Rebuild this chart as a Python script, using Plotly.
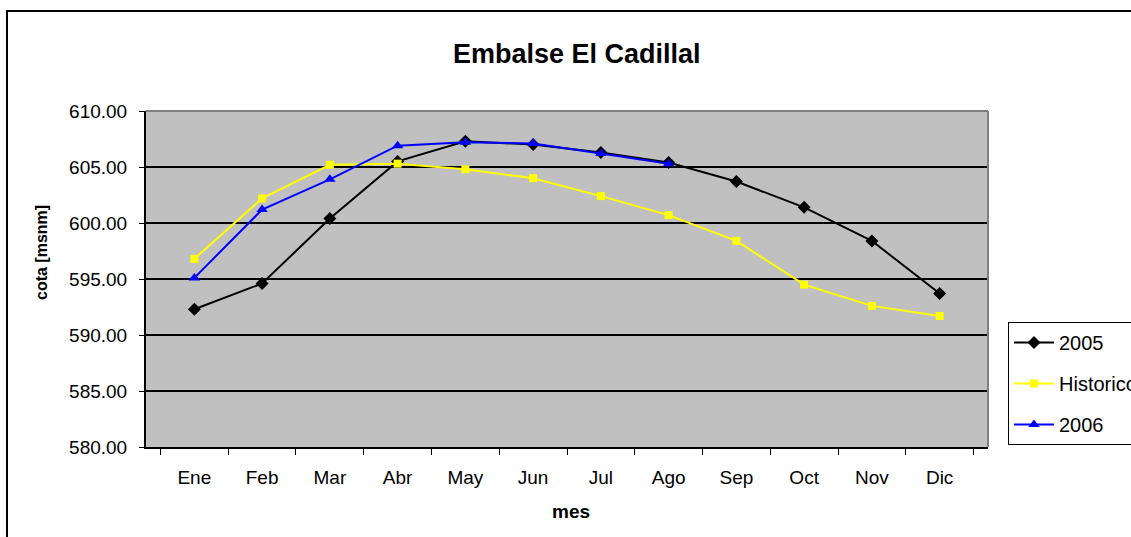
import plotly.graph_objects as go

meses = ["Ene", "Feb", "Mar", "Abr", "May", "Jun", "Jul", "Ago", "Sep", "Oct", "Nov", "Dic"]
cota_2005 = [592.3, 594.6, 600.4, 605.5, 607.3, 607.0, 606.3, 605.4, 603.7, 601.4, 598.4, 593.7]
cota_historico = [596.8, 602.2, 605.2, 605.3, 604.8, 604.0, 602.4, 600.7, 598.4, 594.5, 592.6, 591.7]
cota_2006 = [595.1, 601.2, 603.9, 606.9, 607.2, 607.1, 606.2, 605.3]

FONT = "Liberation Sans, Arial, sans-serif"

fig = go.Figure()

fig.add_trace(
    go.Scatter(
        x=meses,
        y=cota_2005,
        name="2005",
        mode="lines+markers",
        line=dict(color="black", width=2),
        marker=dict(symbol="diamond", size=10, color="black"),
        legendgroup="a",
    )
)
fig.add_trace(
    go.Scatter(
        x=meses,
        y=cota_historico,
        name="Historico",
        mode="lines+markers",
        line=dict(color="#FFFF00", width=2),
        marker=dict(symbol="square", size=8, color="#FFFF00"),
        legendgroup="b",
    )
)
fig.add_trace(
    go.Scatter(
        x=meses[: len(cota_2006)],
        y=cota_2006,
        name="2006",
        mode="lines+markers",
        line=dict(color="#0000FF", width=2),
        marker=dict(symbol="triangle-up", size=10, color="#0000FF"),
        legendgroup="c",
    )
)

# plot border (gray top/right) and outer chart frame
fig.add_shape(type="line", xref="paper", yref="paper", x0=0, x1=1, y0=1, y1=1,
              line=dict(color="#808080", width=2))
fig.add_shape(type="line", xref="paper", yref="paper", x0=1, x1=1, y0=0, y1=1,
              line=dict(color="#808080", width=2))
fig.add_shape(type="rect", xref="paper", yref="paper",
              x0=(7 - 146) / 842, x1=1.3, y0=-0.4, y1=(447 - 11) / 336,
              line=dict(color="black", width=2), layer="below")

fig.add_annotation(text="<b>Embalse El Cadillal</b>", xref="paper", yref="paper",
                   x=(577 - 146) / 842, y=(447 - 54) / 336, showarrow=False,
                   xanchor="center", yanchor="middle",
                   font=dict(size=27, color="black", family=FONT))
fig.add_annotation(text="<b>cota [msnm]</b>", xref="paper", yref="paper",
                   x=(41 - 146) / 842, y=(447 - 253) / 336, showarrow=False,
                   xanchor="center", yanchor="middle",
                   textangle=-90, font=dict(size=16, color="black", family=FONT))
fig.add_annotation(text="<b>mes</b>", xref="paper", yref="paper",
                   x=(571 - 146) / 842, y=(447 - 511) / 336, showarrow=False,
                   xanchor="center", yanchor="middle",
                   font=dict(size=19, color="black", family=FONT))

fig.update_layout(
    width=1131,
    height=537,
    margin=dict(l=146, r=143, t=111, b=90),
    paper_bgcolor="white",
    plot_bgcolor="#C0C0C0",
    font=dict(family=FONT, size=19, color="black"),
    showlegend=True,
    legend=dict(
        xref="container",
        yref="container",
        x=1008 / 1131,
        y=1 - 322 / 537,
        xanchor="left",
        yanchor="top",
        bordercolor="black",
        borderwidth=1,
        bgcolor="white",
        tracegroupgap=12,
        itemwidth=40,
        font=dict(size=20, family=FONT),
    ),
    xaxis=dict(
        type="category",
        showgrid=False,
        showline=True,
        linecolor="black",
        linewidth=2,
        ticks="outside",
        tickson="boundaries",
        ticklen=6,
        tickcolor="black",
        tickfont=dict(size=19),
        ticklabelstandoff=12,
        fixedrange=True,
    ),
    yaxis=dict(
        range=[580, 610],
        dtick=5,
        tickformat=".2f",
        showgrid=True,
        gridcolor="black",
        gridwidth=1.5,
        showline=True,
        linecolor="black",
        linewidth=2,
        ticks="outside",
        ticklen=5,
        tickcolor="black",
        tickfont=dict(size=19),
        ticklabelstandoff=8,
        zeroline=False,
    ),
)

fig.write_html(
    "out.html",
    config={"displayModeBar": False},
    post_script="document.body.style.margin='0';",
)
